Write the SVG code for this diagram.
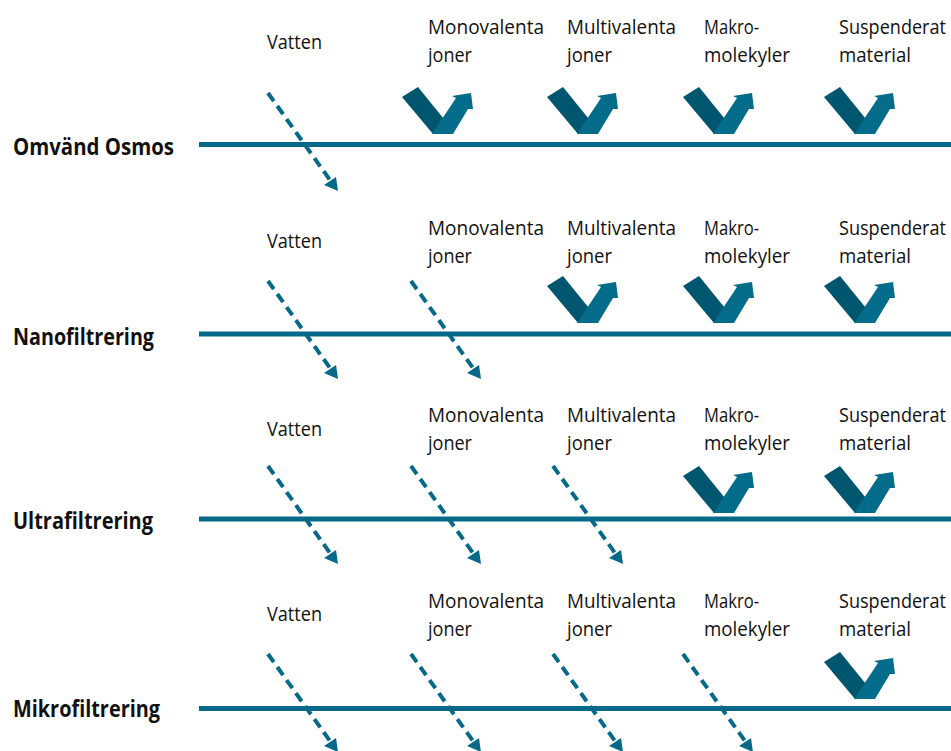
<svg xmlns="http://www.w3.org/2000/svg" xmlns:xlink="http://www.w3.org/1999/xlink" width="951" height="751" viewBox="0 0 951 751">
<style>
.t{font-family:"Open Sans","Noto Sans","Liberation Sans",sans-serif;font-size:20px;fill:#111}
.b{font-family:"Open Sans","Noto Sans","Liberation Sans",sans-serif;font-size:23px;font-weight:bold;fill:#111}
.mem{stroke:#05698a;stroke-width:5;fill:none}
.dk{fill:#01566f}
.lt{fill:#036c8a}
.dl{stroke:#05698a;stroke-width:4;stroke-dasharray:10 6;fill:none}
.ah{fill:#05698a}
</style>
<defs>
<g id="vsym">
<polygon class="dk" points="-30,-37 -14,-47 11.5,-15.5 1,0"/>
<polygon class="lt" points="0,0 21,0 36,-25 41,-25 39,-41 20,-38 24,-36"/>
</g>
<g id="darr">
<line class="dl" x1="0" y1="0" x2="62" y2="87"/>
<polygon class="ah" points="70,98 56,92 68,84"/>
</g>
</defs>
<rect width="951" height="751" fill="#fff"/>

<!-- Row 1 -->
<g id="row1">
<text class="b" x="13" y="155" textLength="161" lengthAdjust="spacingAndGlyphs">Omvänd Osmos</text>
<line class="mem" x1="199" y1="144.5" x2="951" y2="144.5"/>
<text class="t" x="267" y="49" textLength="55" lengthAdjust="spacingAndGlyphs">Vatten</text>
<text class="t" x="428" y="34" textLength="116" lengthAdjust="spacingAndGlyphs">Monovalenta</text>
<text class="t" x="428" y="62" textLength="44" lengthAdjust="spacingAndGlyphs">joner</text>
<text class="t" x="567" y="34" textLength="109" lengthAdjust="spacingAndGlyphs">Multivalenta</text>
<text class="t" x="567" y="62" textLength="45" lengthAdjust="spacingAndGlyphs">joner</text>
<text class="t" x="704" y="34" textLength="55" lengthAdjust="spacingAndGlyphs">Makro-</text>
<text class="t" x="704" y="62" textLength="86" lengthAdjust="spacingAndGlyphs">molekyler</text>
<text class="t" x="839" y="34" textLength="107" lengthAdjust="spacingAndGlyphs">Suspenderat</text>
<text class="t" x="839" y="62" textLength="72" lengthAdjust="spacingAndGlyphs">material</text>
<use xlink:href="#vsym" x="432" y="134"/>
<use xlink:href="#vsym" x="577" y="134"/>
<use xlink:href="#vsym" x="713" y="134"/>
<use xlink:href="#vsym" x="854" y="134"/>
</g>

<!-- Row 2 -->
<g id="row2">
<text class="b" x="13" y="345" textLength="141" lengthAdjust="spacingAndGlyphs">Nanofiltrering</text>
<line class="mem" x1="199" y1="334" x2="951" y2="334"/>
<text class="t" x="267" y="248" textLength="55" lengthAdjust="spacingAndGlyphs">Vatten</text>
<text class="t" x="428" y="235" textLength="116" lengthAdjust="spacingAndGlyphs">Monovalenta</text>
<text class="t" x="428" y="263" textLength="44" lengthAdjust="spacingAndGlyphs">joner</text>
<text class="t" x="567" y="235" textLength="109" lengthAdjust="spacingAndGlyphs">Multivalenta</text>
<text class="t" x="567" y="263" textLength="45" lengthAdjust="spacingAndGlyphs">joner</text>
<text class="t" x="704" y="235" textLength="55" lengthAdjust="spacingAndGlyphs">Makro-</text>
<text class="t" x="704" y="263" textLength="86" lengthAdjust="spacingAndGlyphs">molekyler</text>
<text class="t" x="839" y="235" textLength="107" lengthAdjust="spacingAndGlyphs">Suspenderat</text>
<text class="t" x="839" y="263" textLength="72" lengthAdjust="spacingAndGlyphs">material</text>
<use xlink:href="#vsym" x="577" y="323"/>
<use xlink:href="#vsym" x="713" y="323"/>
<use xlink:href="#vsym" x="854" y="323"/>
</g>

<!-- Row 3 -->
<g id="row3">
<text class="b" x="13" y="529" textLength="140" lengthAdjust="spacingAndGlyphs">Ultrafiltrering</text>
<line class="mem" x1="199" y1="519" x2="951" y2="519"/>
<text class="t" x="267" y="436" textLength="55" lengthAdjust="spacingAndGlyphs">Vatten</text>
<text class="t" x="428" y="422" textLength="116" lengthAdjust="spacingAndGlyphs">Monovalenta</text>
<text class="t" x="428" y="450" textLength="44" lengthAdjust="spacingAndGlyphs">joner</text>
<text class="t" x="567" y="422" textLength="109" lengthAdjust="spacingAndGlyphs">Multivalenta</text>
<text class="t" x="567" y="450" textLength="45" lengthAdjust="spacingAndGlyphs">joner</text>
<text class="t" x="704" y="422" textLength="55" lengthAdjust="spacingAndGlyphs">Makro-</text>
<text class="t" x="704" y="450" textLength="86" lengthAdjust="spacingAndGlyphs">molekyler</text>
<text class="t" x="839" y="422" textLength="107" lengthAdjust="spacingAndGlyphs">Suspenderat</text>
<text class="t" x="839" y="450" textLength="72" lengthAdjust="spacingAndGlyphs">material</text>
<use xlink:href="#vsym" x="713" y="513"/>
<use xlink:href="#vsym" x="854" y="513"/>
</g>

<!-- Row 4 -->
<g id="row4">
<text class="b" x="13" y="717" textLength="147" lengthAdjust="spacingAndGlyphs">Mikrofiltrering</text>
<line class="mem" x1="199" y1="708.5" x2="951" y2="708.5"/>
<text class="t" x="267" y="621" textLength="55" lengthAdjust="spacingAndGlyphs">Vatten</text>
<text class="t" x="428" y="608" textLength="116" lengthAdjust="spacingAndGlyphs">Monovalenta</text>
<text class="t" x="428" y="636" textLength="44" lengthAdjust="spacingAndGlyphs">joner</text>
<text class="t" x="567" y="608" textLength="109" lengthAdjust="spacingAndGlyphs">Multivalenta</text>
<text class="t" x="567" y="636" textLength="45" lengthAdjust="spacingAndGlyphs">joner</text>
<text class="t" x="704" y="608" textLength="55" lengthAdjust="spacingAndGlyphs">Makro-</text>
<text class="t" x="704" y="636" textLength="86" lengthAdjust="spacingAndGlyphs">molekyler</text>
<text class="t" x="839" y="608" textLength="107" lengthAdjust="spacingAndGlyphs">Suspenderat</text>
<text class="t" x="839" y="636" textLength="72" lengthAdjust="spacingAndGlyphs">material</text>
<use xlink:href="#vsym" x="854" y="699"/>
</g>

<!-- Connectors: passing flows -->
<g id="connectors">
<use xlink:href="#darr" x="268" y="93"/>
<use xlink:href="#darr" x="268" y="281"/>
<use xlink:href="#darr" x="411" y="281"/>
<use xlink:href="#darr" x="268" y="466"/>
<use xlink:href="#darr" x="411" y="466"/>
<use xlink:href="#darr" x="553" y="466"/>
<use xlink:href="#darr" x="268" y="654"/>
<use xlink:href="#darr" x="411" y="654"/>
<use xlink:href="#darr" x="553" y="654"/>
<use xlink:href="#darr" x="683" y="654"/>
</g>
</svg>
